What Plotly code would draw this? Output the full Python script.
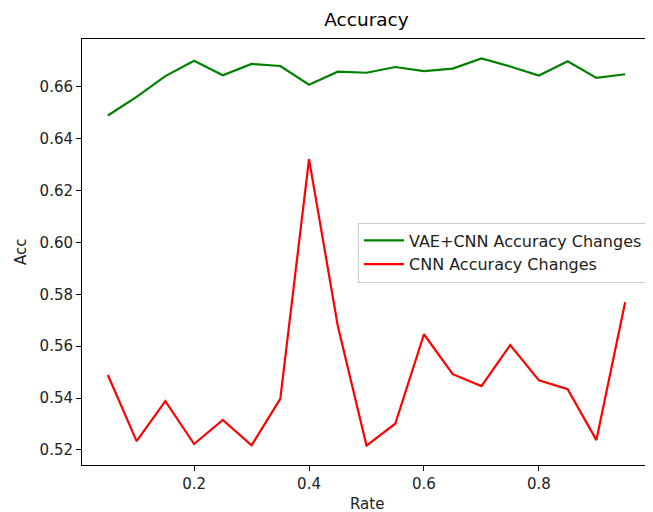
import plotly.graph_objects as go

rates = [0.05, 0.10, 0.15, 0.20, 0.25, 0.30, 0.35, 0.40, 0.45, 0.50,
         0.55, 0.60, 0.65, 0.70, 0.75, 0.80, 0.85, 0.90, 0.95]
vae_cnn_acc = [0.6489, 0.6561, 0.6641, 0.6700, 0.6644, 0.6688, 0.6680, 0.6608, 0.6658, 0.6654,
               0.6676, 0.6660, 0.6670, 0.6709, 0.6678, 0.6643, 0.6698, 0.6634, 0.6648]
cnn_acc = [0.5489, 0.5234, 0.5388, 0.5223, 0.5316, 0.5218, 0.5397, 0.6321, 0.5679, 0.5217,
           0.5301, 0.5646, 0.5492, 0.5446, 0.5604, 0.5468, 0.5434, 0.5238, 0.5769]
x_ticks = [0.2, 0.4, 0.6, 0.8]
y_ticks = [0.52, 0.54, 0.56, 0.58, 0.60, 0.62, 0.64, 0.66]

font = "DejaVu Sans"
OFF = 8  # page body margin offset
W, H = 653 - OFF, 512 - OFF
L, R, T, B = 82 - OFF, 651 - OFF, 39 - OFF, 465 - OFF

fig = go.Figure()
fig.add_trace(go.Scatter(x=rates, y=vae_cnn_acc, mode="lines", name="VAE+CNN Accuracy Changes",
                         line=dict(color="green", width=2.2)))
fig.add_trace(go.Scatter(x=rates, y=cnn_acc, mode="lines", name="CNN Accuracy Changes",
                         line=dict(color="red", width=2.2)))

fig.update_layout(
    width=W, height=H,
    margin=dict(l=L, r=W - R, t=T, b=H - B, autoexpand=False),
    paper_bgcolor="white", plot_bgcolor="white",
    font=dict(family=font, size=15, color="#222"),
    title=dict(text="Accuracy", x=(L + R) / 2 / W, xanchor="center",
               y=1 - (20 - OFF) / H, yanchor="middle", yref="container",
               font=dict(family=font, size=18.5, color="black")),
    showlegend=True,
    legend=dict(x=(648 - OFF - L) / (R - L), xanchor="right",
                y=(B - (252.5 - OFF)) / (B - T), yanchor="middle",
                bgcolor="rgba(255,255,255,0.8)", bordercolor="#cccccc", borderwidth=1,
                font=dict(family=font, size=16, color="#222"),
                itemwidth=40, tracegroupgap=0),
    xaxis=dict(range=[0.005, 0.995], tickvals=x_ticks, ticktext=[f"{v:.1f}" for v in x_ticks],
               showgrid=False, zeroline=False, showline=True, linecolor="black", linewidth=1,
               mirror=True, ticks="outside", ticklen=5, tickcolor="black", automargin=False,
               tickfont=dict(family=font, size=15, color="#222")),
    yaxis=dict(range=[0.5142, 0.6784], tickvals=y_ticks, ticktext=[f"{v:.2f}" for v in y_ticks],
               showgrid=False, zeroline=False, showline=True, linecolor="black", linewidth=1,
               ticks="outside", ticklen=5, tickcolor="black", automargin=False,
               tickfont=dict(family=font, size=15, color="#222")),
    annotations=[
        dict(text="Rate", xref="paper", yref="paper", x=0.5, y=-((504 - OFF) - B) / (B - T),
             xanchor="center", yanchor="middle", showarrow=False,
             font=dict(family=font, size=15, color="#222")),
        dict(text="Acc", xref="paper", yref="paper", x=-(L - (21 - OFF)) / (R - L),
             y=(B - (252 - OFF)) / (B - T),
             xanchor="center", yanchor="middle", showarrow=False, textangle=-90,
             font=dict(family=font, size=15, color="#222")),
    ],
)

fig.write_html("out.html")
